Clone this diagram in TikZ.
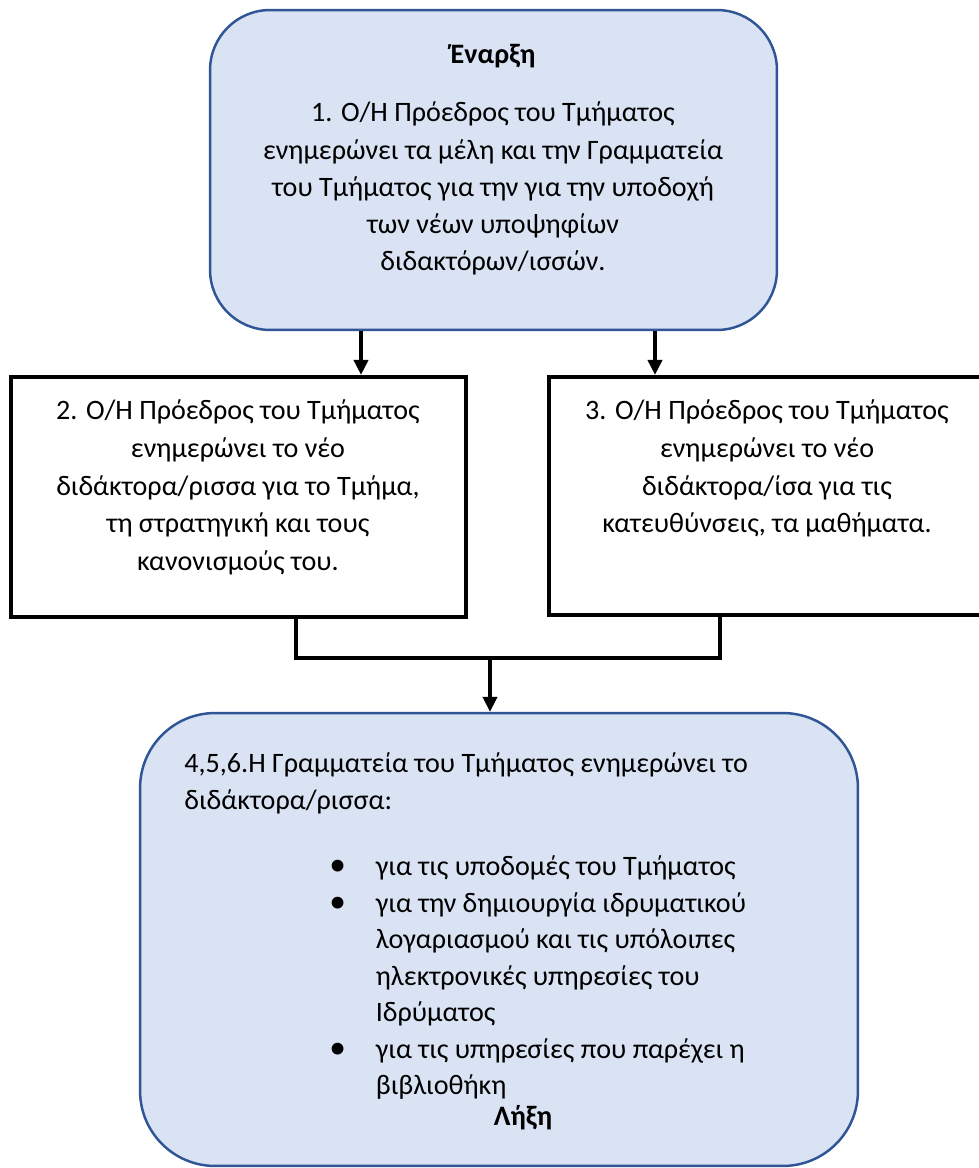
\documentclass[tikz,border=0pt]{standalone}
\usepackage{fontspec}
\setmainfont{Carlito}
\usetikzlibrary{arrows.meta}
\definecolor{boxblue}{HTML}{DAE3F3}
\definecolor{lineblue}{HTML}{2F5597}
\newcommand{\bigdot}{{\fontsize{19}{21}\selectfont\textbullet}}
\tikzset{
  roundbox/.style={draw=lineblue, fill=boxblue, line width=1.4pt, inner sep=0pt},
  sqbox/.style={draw=black, line width=2.4pt, inner sep=0pt},
  txt/.style={inner sep=0pt, align=center, font=\fontsize{16}{21.2}\selectfont},
  link/.style={line width=2pt},
  arr/.style={link, -{Triangle[length=8.5pt,width=8pt]}}
}
\begin{document}
\begin{tikzpicture}[x=0.02cm,y=-0.02cm]
\useasboundingbox (0,0) rectangle (978,1168);
% boxes
\node[roundbox, rounded corners=1.2cm, minimum width=11.34cm, minimum height=6.4cm] (start) at (493.5,170) {};
\node[sqbox, minimum width=9.1cm, minimum height=4.8cm] (left) at (238.5,497) {};
\node[sqbox, minimum width=8.9cm, minimum height=4.76cm] (right) at (771.5,496) {};
\node[roundbox, rounded corners=1.5cm, minimum width=14.36cm, minimum height=9.06cm] (finish) at (499,939.5) {};
% texts
\node[txt, anchor=north] (starttext) at (493,44) {\textbf{Έναρξη}\\[12pt]
  1. Ο/Η Πρόεδρος του Τμήματος\\
  ενημερώνει τα μέλη και την Γραμματεία\\
  του Τμήματος για την για την υποδοχή\\
  των νέων υποψηφίων\\
  διδακτόρων/ισσών.};
\node[txt, anchor=north, font=\fontsize{16}{21.6}\selectfont] (lefttext) at (238,399) {2. Ο/Η Πρόεδρος του Τμήματος\\
  ενημερώνει το νέο\\
  διδάκτορα/ρισσα για το Τμήμα,\\
  τη στρατηγική και τους\\
  κανονισμούς του.};
\node[txt, anchor=north, font=\fontsize{16}{21.6}\selectfont] (righttext) at (767,399) {3. Ο/Η Πρόεδρος του Τμήματος\\
  ενημερώνει το νέο\\
  διδάκτορα/ίσα για τις\\
  κατευθύνσεις, τα μαθήματα.};
\node[txt, align=left, anchor=north west] (introtext) at (184,752) {4,5,6.Η Γραμματεία του Τμήματος ενημερώνει το\\
  διδάκτορα/ρισσα:};
\node[txt, align=left, anchor=north west] (items) at (329,850) {%
  \renewcommand{\arraystretch}{0.98}%
  \begin{tabular}{@{}l@{\hspace{17pt}}l@{}}
  \bigdot & για τις υποδομές του Τμήματος\\
  \bigdot & για την δημιουργία ιδρυματικού\\
   & λογαριασμού και τις υπόλοιπες\\
   & ηλεκτρονικές υπηρεσίες του\\
   & Ιδρύματος\\
  \bigdot & για τις υπηρεσίες που παρέχει η\\
   & βιβλιοθήκη
  \end{tabular}};
\node[txt, font=\fontsize{16}{21.2}\selectfont\bfseries] (endtext) at (523,1118) {Λήξη};
% connectors
\coordinate (a1) at (361,0);
\coordinate (a2) at (655,0);
\draw[arr] (a1 |- start.south) -- (a1 |- left.north);
\draw[arr] (a2 |- start.south) -- (a2 |- right.north);
\coordinate (j1) at (296,658);
\coordinate (j2) at (720,658);
\coordinate (jm) at (490,658);
\draw[link] (j1 |- left.south) -- (j1) -- (j2) -- (j2 |- right.south);
\draw[arr] (jm) -- (jm |- finish.north);
\end{tikzpicture}
\end{document}
